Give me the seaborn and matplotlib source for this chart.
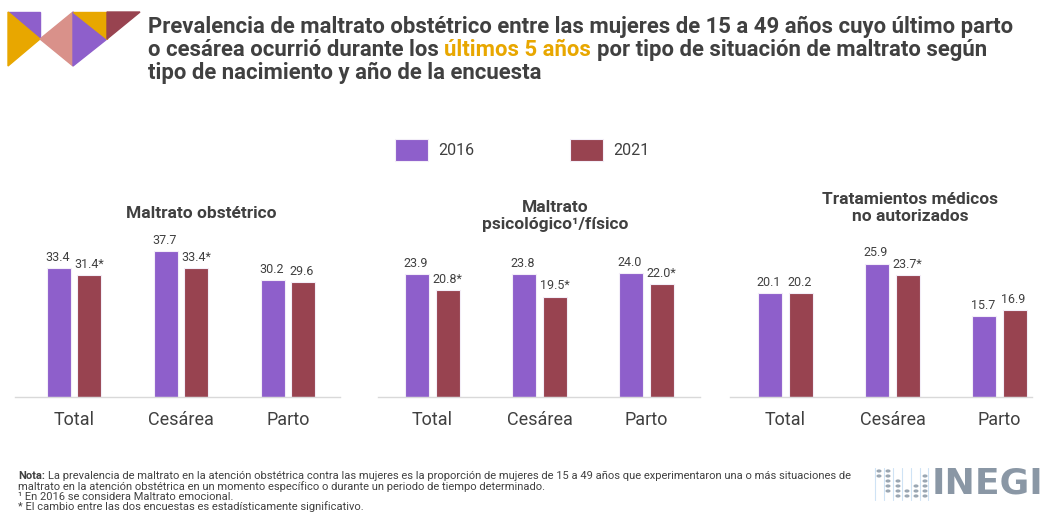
import matplotlib
matplotlib.use('Agg')
import matplotlib.pyplot as plt
import seaborn as sns
import pandas as pd
from matplotlib import font_manager
from matplotlib.patches import Polygon, Circle
from matplotlib.lines import Line2D

# datos
tipos = ['Total', 'Cesárea', 'Parto']
anios = ['2016', '2021']
titulos = ['Maltrato obstétrico',
           'Maltrato\npsicológico¹/físico',
           'Tratamientos médicos\nno autorizados']

maltrato_2016 = [33.4, 37.7, 30.2]
maltrato_2021 = [31.4, 33.4, 29.6]
psico_2016 = [23.9, 23.8, 24.0]
psico_2021 = [20.8, 19.5, 22.0]
trat_2016 = [20.1, 25.9, 15.7]
trat_2021 = [20.2, 23.7, 16.9]

# cambio estadisticamente significativo (*) en 2021
signif_maltrato = [True, True, False]
signif_psico = [True, True, True]
signif_trat = [False, True, False]

PURPLE = '#8E5FCB'
MAROON = '#984350'
GOLD = '#E8A700'
SALMON = '#D9918A'
TXT = '#404040'
GRIS = '#8A97A5'

sns.set_style('white')
plt.rcParams['font.family'] = ['Roboto', 'DejaVu Sans']

names = {f.name for f in font_manager.fontManager.ttflist}
NARROW = 'Liberation Sans Narrow' if 'Liberation Sans Narrow' in names else 'Roboto'

W, H = 1045, 513
fig = plt.figure(figsize=(W / 100, H / 100), dpi=100)
fig.patch.set_facecolor('white')
rend = fig.canvas.get_renderer()


def fx(px):
    return px / W


def fy(py):
    return 1 - py / H


def ancho(s, **kw):
    t = fig.text(0, 0, s, **kw)
    w = t.get_window_extent(renderer=rend).width
    t.remove()
    return w


def linea(x, y, piezas, **kw):
    # piezas: lista de (texto, color, peso); separadas por un espacio
    esp = ancho('x x', **kw) - ancho('xx', **kw)
    for s, c, wgt in piezas:
        t = fig.text(fx(x), fy(y), s, color=c, fontweight=wgt,
                     va='baseline', ha='left', **kw)
        x += t.get_window_extent(renderer=rend).width + esp


# ---- paneles ----
paneles = [
    (maltrato_2016, maltrato_2021, signif_maltrato, 15, 340, 181, 3.87),
    (psico_2016, psico_2021, signif_psico, 378, 700, 539.5, 5.15),
    (trat_2016, trat_2021, signif_trat, 730, 1032, 892.5, 5.15),
]
base, top = 397, 230
handles = None
for i, (v16, v21, sig, x0, x1, xc, escala) in enumerate(paneles):
    ax = fig.add_axes([fx(x0), fy(base), (x1 - x0) / W, (base - top) / H])
    df = pd.DataFrame({
        'tipo': tipos * 2,
        'anio': [anios[0]] * 3 + [anios[1]] * 3,
        'valor': v16 + v21,
    })
    sns.barplot(data=df, x='tipo', y='valor', hue='anio',
                palette=[PURPLE, MAROON], saturation=1, width=0.57, gap=0.21,
                linewidth=0.8, edgecolor='#f3eef8', ax=ax, legend=(i == 0))
    if i == 0:
        handles, labels = ax.get_legend_handles_labels()
        ax.get_legend().remove()

    ax.set_xlim(1 - (xc - x0) / 107, 1 + (x1 - xc) / 107)
    ax.set_ylim(0, (base - top) / escala)

    for j, (cont, vals) in enumerate(zip(ax.containers, [v16, v21])):
        for k, (bar, v) in enumerate(zip(cont, vals)):
            if j == 1 and sig[k]:
                ax.annotate(f'{v:.1f}*', (bar.get_x(), bar.get_height()),
                            xytext=(-2, 3), textcoords='offset points',
                            ha='left', va='bottom', fontsize=9, color=TXT)
            else:
                ax.annotate(f'{v:.1f}', (bar.get_x() + bar.get_width() / 2,
                                         bar.get_height()),
                            xytext=(-1, 3), textcoords='offset points',
                            ha='center', va='bottom', fontsize=9, color=TXT)

    for s in ['left', 'top', 'right']:
        ax.spines[s].set_visible(False)
    ax.spines['bottom'].set_color('#d9d9d9')
    ax.spines['bottom'].set_linewidth(1)
    ax.set_yticks([])
    ax.set_xlabel('')
    ax.set_ylabel('')
    ax.tick_params(axis='x', length=0, pad=10, labelsize=13, labelcolor=TXT)
    ax.patch.set_alpha(0)

# titulos de panel
fig.text(fx(201), fy(214), titulos[0], ha='center', va='center',
         fontsize=12.5, fontweight='bold', color=TXT)
fig.text(fx(555), fy(216), titulos[1], ha='center', va='center',
         fontsize=12.5, fontweight='bold', color=TXT, linespacing=1.2)
fig.text(fx(910), fy(208), titulos[2], ha='center', va='center',
         fontsize=12.5, fontweight='bold', color=TXT, linespacing=1.2)

# leyenda
fig.legend(handles, labels, loc='center', bbox_to_anchor=(fx(522), fy(150)),
           ncol=2, frameon=False, fontsize=11.5, labelcolor=TXT,
           handlelength=2.1, handleheight=1.65, handletextpad=0.6,
           columnspacing=6.0)

# ---- titulo principal ----
l1 = 'Prevalencia de maltrato obstétrico entre las mujeres de 15 a 49 años cuyo último parto'
fs = 15
fs = fs * 869 / ancho(l1, fontsize=fs, fontweight='bold', family=NARROW)
kw = dict(fontsize=fs, family=NARROW)
linea(148, 33, [(l1, TXT, 'bold')], **kw)
linea(148, 56, [('o cesárea ocurrió durante los', TXT, 'bold'),
                ('últimos 5 años', GOLD, 'bold'),
                ('por tipo de situación de maltrato según', TXT, 'bold')], **kw)
linea(148, 79, [('tipo de nacimiento y año de la encuesta', TXT, 'bold')], **kw)

# ---- notas ----
n1 = ('La prevalencia de maltrato en la atención obstétrica contra las mujeres es la '
      'proporción de mujeres de 15 a 49 años que experimentaron una o más situaciones de')
fn = 7.5
fn = fn * (832 - ancho('Nota:', fontsize=fn, fontweight='bold', family=NARROW)) / \
    ancho(n1, fontsize=fn, family=NARROW)
kn = dict(fontsize=fn, family=NARROW)
linea(18, 479, [('Nota:', TXT, 'bold'), (n1, TXT, 'normal')], **kn)
linea(18, 490, [('maltrato en la atención obstétrica en un momento específico o '
                 'durante un periodo de tiempo determinado.', TXT, 'normal')], **kn)
linea(18, 500, [('¹ En 2016 se considera Maltrato emocional.', TXT, 'normal')], **kn)
linea(18, 510, [('* El cambio entre las dos encuestas es estadísticamente '
                 'significativo.', TXT, 'normal')], **kn)

# ---- logotipo superior ----
def px(pts):
    return [(fx(a), fy(b)) for a, b in pts]


tri = [
    ([(8, 12), (40, 12), (40, 39)], PURPLE),
    ([(8, 12), (40, 39), (8, 66)], GOLD),
    ([(40, 39), (73, 12), (73, 66)], SALMON),
    ([(73, 12), (107, 39), (73, 66)], PURPLE),
    ([(73, 12), (107, 12), (107, 39)], GOLD),
    ([(107, 12), (140, 12), (107, 39)], MAROON),
]
for pts, c in tri:
    fig.patches.append(Polygon(px(pts), closed=True, color=c,
                               transform=fig.transFigure, figure=fig))

# ---- logotipo INEGI ----
for xl in [875, 884, 893, 902, 911, 920, 928]:
    fig.lines.append(Line2D([fx(xl), fx(xl)], [fy(468), fy(500)],
                            color='#cfe3f5', lw=0.8, transform=fig.transFigure))
puntos = [(879, 471), (879, 476), (888, 471), (888, 476), (888, 481),
          (888, 486), (888, 491), (898, 481), (898, 486), (898, 491),
          (898, 496), (907, 491), (907, 496), (916, 486), (916, 491),
          (916, 496), (925, 476), (925, 481), (925, 486), (925, 491), (925, 496)]
for a, b in puntos:
    fig.patches.append(Circle((fx(a), fy(b)), 1.8 / W, color='#9aa6b2',
                              transform=fig.transFigure, figure=fig))
fig.text(fx(932), fy(484), 'INEGI', ha='left', va='center', fontsize=26,
         fontweight='heavy', color=GRIS, family='DejaVu Sans')

fig.savefig('out.png', dpi=100, facecolor='white')
